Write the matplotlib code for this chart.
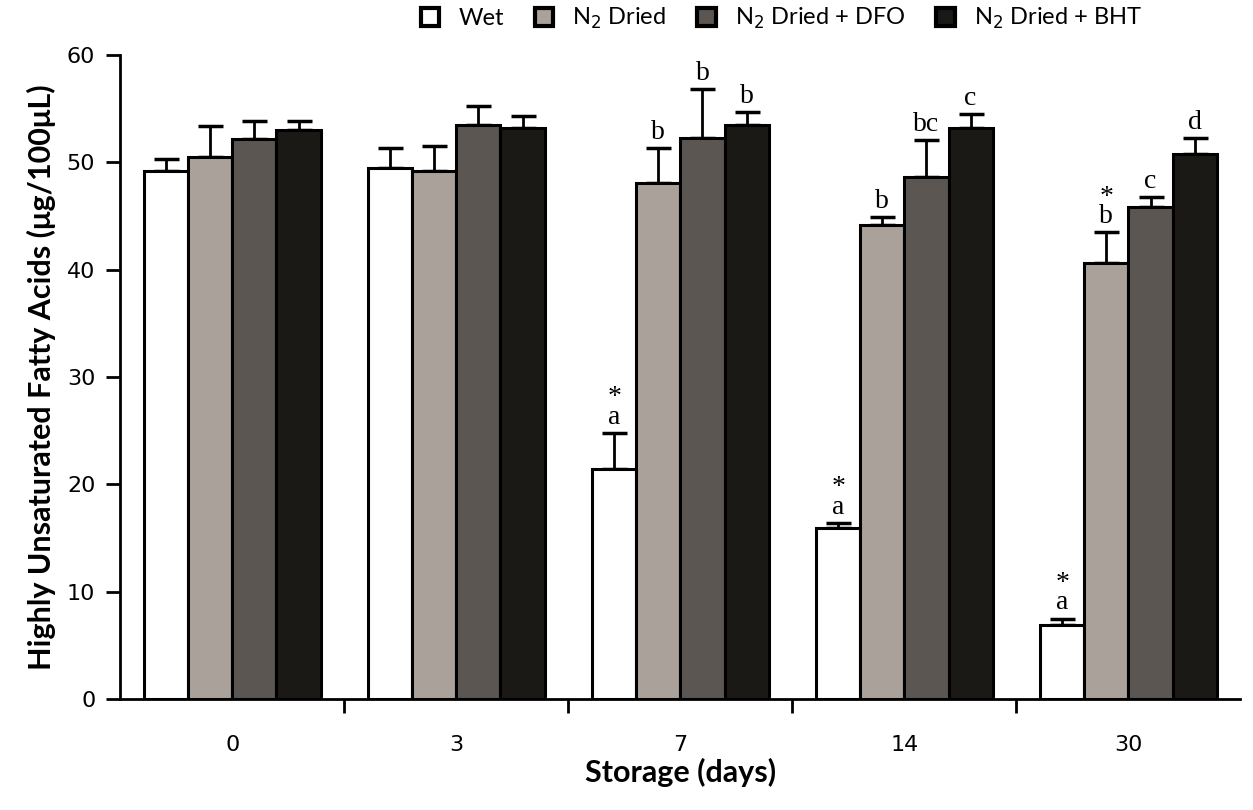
import numpy as np
import matplotlib.pyplot as plt

# storage time points (days)
days = ["0", "3", "7", "14", "30"]

# treatment means and SD (ug/100uL)
wet = [49.2, 49.5, 21.4, 15.9, 6.9]
wet_err = [1.1, 1.8, 3.4, 0.5, 0.6]
n2 = [50.5, 49.2, 48.1, 44.2, 40.6]
n2_err = [2.9, 2.3, 3.2, 0.7, 2.9]
dfo = [52.2, 53.5, 52.3, 48.6, 45.8]
dfo_err = [1.7, 1.8, 4.5, 3.5, 1.0]
bht = [53.0, 53.2, 53.5, 53.2, 50.8]
bht_err = [0.9, 1.1, 1.2, 1.3, 1.5]

# significance letters above each bar
wet_lab = ["", "", "*\na", "*\na", "*\na"]
n2_lab = ["", "", "b", "b", "*\nb"]
dfo_lab = ["", "", "b", "bc", "c"]
bht_lab = ["", "", "b", "c", "d"]

series = [
    ("Wet", wet, wet_err, wet_lab, "#ffffff"),
    ("N$_2$ Dried", n2, n2_err, n2_lab, "#aaa19b"),
    ("N$_2$ Dried + DFO", dfo, dfo_err, dfo_lab, "#5b5651"),
    ("N$_2$ Dried + BHT", bht, bht_err, bht_lab, "#1b1915"),
]

fig = plt.figure(figsize=(12.53, 8.10), dpi=100)
ax = fig.add_axes([0.096, 0.137, 0.894, 0.795])

x = np.arange(len(days))
w = 0.197
for i, (name, vals, errs, labs, col) in enumerate(series):
    pos = x + (i - 1.5) * w
    ax.bar(pos, vals, w, color=col, edgecolor="black", linewidth=2.2, label=name, zorder=2)
    ax.errorbar(pos, vals, yerr=[np.zeros(len(errs)), errs], fmt="none",
                ecolor="black", elinewidth=2, capsize=9, capthick=2.5, zorder=1)
    for p, v, e, t in zip(pos, vals, errs, labs):
        if t:
            ax.text(p, v + e + 0.3, t, ha="center", va="bottom", fontsize=20,
                    family="Liberation Serif", linespacing=0.7)

ax.set_xlim(-0.5, len(days) - 0.5)
ax.set_ylim(0, 60)
ax.set_yticks(range(0, 61, 10))
ax.set_xticks(x)
ax.set_xticklabels(days)
ax.set_xticks(np.arange(0.5, len(days) - 1, 1), minor=True)
ax.tick_params(axis="x", which="major", length=0, pad=26, labelsize=16)
ax.tick_params(axis="x", which="minor", length=10, width=2, direction="out")
ax.tick_params(axis="y", length=10, width=2, direction="out", labelsize=16, pad=8)

for s in ["top", "right"]:
    ax.spines[s].set_visible(False)
for s in ["left", "bottom"]:
    ax.spines[s].set_linewidth(2)

ax.set_xlabel("Storage (days)", fontsize=22, fontweight="bold", family="Lato", labelpad=2)
ax.set_ylabel("Highly Unsaturated Fatty Acids (\u03bcg/100\u03bcL)", fontsize=22,
              fontweight="bold", family="Lato", labelpad=8)

leg = ax.legend(loc="center", bbox_to_anchor=(0.59, 1.057), ncol=4, frameon=False,
                prop={"family": "Lato", "size": 17}, handlelength=0.8, handleheight=0.8,
                columnspacing=1.3, handletextpad=0.8, borderaxespad=0)
for h in leg.legend_handles:
    h.set_linewidth(3)

fig.savefig("out.png", dpi=100, facecolor="white")
